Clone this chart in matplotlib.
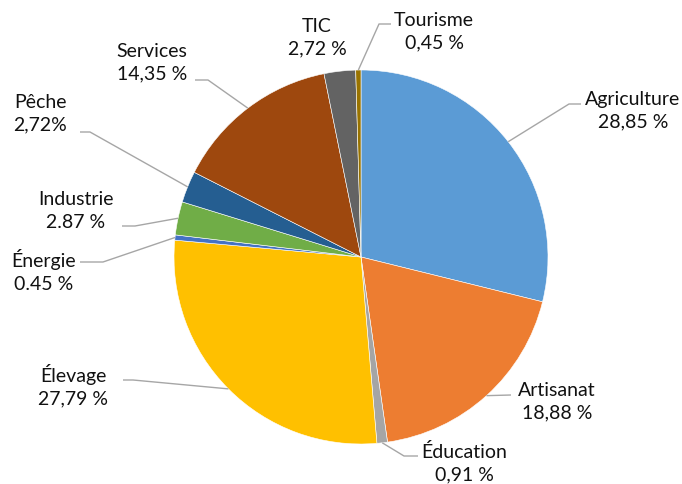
import numpy as np
import matplotlib.pyplot as plt

plt.rcParams['font.family'] = ['Lato', 'DejaVu Sans']

# secteurs et parts (%)
sectors = ['Agriculture', 'Artisanat', 'Éducation', 'Élevage', 'Énergie',
           'Industrie', 'Pêche', 'Services', 'TIC', 'Tourisme']
shares = [28.85, 18.88, 0.91, 27.79, 0.45, 2.87, 2.72, 14.35, 2.72, 0.45]
pct_labels = ['28,85 %', '18,88 %', '0,91 %', '27,79 %', '0.45 %',
              '2.87 %', '2,72%', '14,35 %', '2,72 %', '0,45 %']
colors = ['#5B9BD5', '#ED7D31', '#A5A5A5', '#FFC000', '#4472C4',
          '#70AD47', '#255E91', '#9E480E', '#636363', '#997300']

# label layout in pixel coords (y from top): text centre, line start, elbow
label_pos = {
    'Agriculture': ((633, 111), (581, 105), (569, 105)),
    'Artisanat':   ((557, 402), (511, 396), None),
    'Éducation':   ((464, 463), (418, 457), (404, 457)),
    'Élevage':     ((73, 386), (123, 381), (133, 381)),
    'Énergie':     ((44, 271), (80, 263), (103, 263)),
    'Industrie':   ((76, 211), (122, 227), (135, 227)),
    'Pêche':       ((40, 114), (80, 133), (90, 133)),
    'Services':    ((152, 63), (195, 81), (208, 81)),
    'TIC':         ((317, 38), None, None),
    'Tourisme':    ((434, 32), (391, 25), (379, 25)),
}

W, H = 682, 485
cx, cy, R = 361, 258, 187

fig = plt.figure(figsize=(W / 100, H / 100), dpi=100)
ax = fig.add_axes([0, 0, 1, 1])

wedges, _ = ax.pie(shares, colors=colors, startangle=90, counterclock=False,
                   center=(cx, H - cy), radius=R,
                   wedgeprops=dict(edgecolor='white', linewidth=0.4))
ax.set_xlim(0, W)
ax.set_ylim(0, H)
ax.set_aspect('equal')
ax.axis('off')

line_col = '#A6A6A6'
for w, name, pct in zip(wedges, sectors, pct_labels):
    (tx, ty), start, elbow = label_pos[name]
    ax.text(tx, H - ty, f'{name}\n{pct}', ha='center', va='center',
            fontsize=14, color='#111111', linespacing=1.4)
    if start is None:
        continue
    mid = np.deg2rad((w.theta1 + w.theta2) / 2)
    ex = cx + R * np.cos(mid)
    ey = (H - cy) + R * np.sin(mid)
    xs = [start[0]]
    ys = [H - start[1]]
    if elbow is not None:
        xs.append(elbow[0])
        ys.append(H - elbow[1])
    xs.append(ex)
    ys.append(ey)
    ax.plot(xs, ys, color=line_col, lw=1.0, solid_capstyle='butt')

fig.savefig('out.png', dpi=100)
